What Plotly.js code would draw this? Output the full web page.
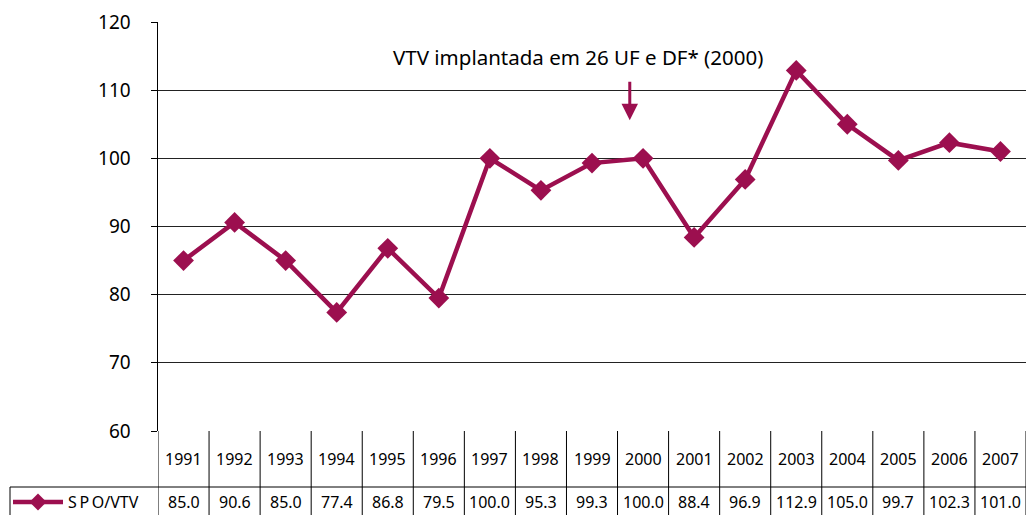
<!DOCTYPE html>
<html>
<head>
<meta charset="utf-8">
<script src="https://cdn.plot.ly/plotly-3.0.1.min.js"></script>
<style>html,body{margin:0;padding:0;background:#fff;}#chart{width:1026px;height:515px;}</style>
</head>
<body>
<div id="chart"></div>
<script>
const years = ['1991','1992','1993','1994','1995','1996','1997','1998','1999','2000','2001','2002','2003','2004','2005','2006','2007'];
const spoVtv = [85.0, 90.6, 85.0, 77.4, 86.8, 79.5, 100.0, 95.3, 99.3, 100.0, 88.4, 96.9, 112.9, 105.0, 99.7, 102.3, 101.0];
const seriesName = 'SPO/VTV';
const noteText = 'VTV implantada em 26 UF e DF* (2000)';
const yTicks = [60, 70, 80, 90, 100, 110, 120];

const color = '#9C0F4F';
const font = 'Noto Sans, Open Sans, sans-serif';
const idx = years.map((_, i) => i);
const n = years.length;
const W = 868, H = 409;
const px = p => (p - 158) / W;      // pixel x -> paper
const py = p => (431 - p) / H;      // pixel y -> paper

const rowLine = py(487);
const yearRowY = py(459);
const valRowY = py(502);
const bottomY = py(530);
const leftCellX = px(10);

const shapes = [];
for (let i = 0; i <= n; i++) {
  shapes.push({type:'line', xref:'x', yref:'paper', x0:i-0.5, x1:i-0.5, y0:0, y1:bottomY, line:{color:'#000', width:1}});
}
shapes.push({type:'line', xref:'paper', yref:'paper', x0:leftCellX, x1:1, y0:rowLine, y1:rowLine, line:{color:'#000', width:1}});
shapes.push({type:'line', xref:'paper', yref:'paper', x0:leftCellX, x1:leftCellX, y0:rowLine, y1:bottomY, line:{color:'#000', width:1}});
// legend key: line + diamond
shapes.push({type:'line', xref:'paper', yref:'paper', x0:px(13), x1:px(63), y0:valRowY, y1:valRowY, line:{color:color, width:4.5}});
shapes.push({type:'path', xref:'paper', yref:'paper', xsizemode:'pixel', ysizemode:'pixel', xanchor:px(38), yanchor:valRowY,
             path:'M 0 8.5 L 8.5 0 L 0 -8.5 L -8.5 0 Z', fillcolor:color, line:{color:color, width:0}});

const annotations = [];
years.forEach((y, i) => {
  annotations.push({x:i, y:yearRowY, xref:'x', yref:'paper', yanchor:'middle', xanchor:'center', text:y, showarrow:false, font:{family:font, size:16, color:'#000'}});
  annotations.push({x:i, y:valRowY, xref:'x', yref:'paper', yanchor:'middle', xanchor:'center', text:spoVtv[i].toFixed(1), showarrow:false, font:{family:font, size:16, color:'#000'}});
});
annotations.push({x:px(66), y:valRowY, xref:'paper', yref:'paper', xanchor:'left', yanchor:'middle', text:'S\u2009P\u2009O/VTV', showarrow:false, font:{family:font, size:16, color:'#000'}});
annotations.push({x:7.73, y:114.9, xref:'x', yref:'y', xanchor:'center', yanchor:'middle', text:noteText, showarrow:false, font:{family:font, size:20.5, color:'#000'}});
annotations.push({x:8.74, y:105.6, xref:'x', yref:'y', text:'', showarrow:true, ax:0, ay:-40, arrowhead:2, arrowsize:1.1, arrowwidth:3, arrowcolor:color});

const trace = {
  x: idx, y: spoVtv, name: seriesName, type:'scatter', mode:'lines+markers',
  line:{color:color, width:4.5},
  marker:{symbol:'diamond', size:16, color:color},
  cliponaxis:false
};

const layout = {
  width:1026, height:515,
  margin:{l:158, r:0, t:22, b:84},
  paper_bgcolor:'#fff', plot_bgcolor:'#fff',
  showlegend:false,
  xaxis:{range:[-0.5, n-0.5], showgrid:false, zeroline:false, showticklabels:false, ticks:'', showline:false, fixedrange:true},
  yaxis:{range:[60,120], tickvals:yTicks, showgrid:true, gridcolor:'#222', gridwidth:1.2, zeroline:false,
         showline:true, linecolor:'#000', linewidth:1.5, ticks:'outside', ticklen:6, tickcolor:'#000',
         ticklabelstandoff:16, tickfont:{family:font, size:19, color:'#000'}, fixedrange:true},
  shapes: shapes,
  annotations: annotations
};

Plotly.newPlot('chart', [trace], layout, {displayModeBar:false, staticPlot:true});
</script>
</body>
</html>
